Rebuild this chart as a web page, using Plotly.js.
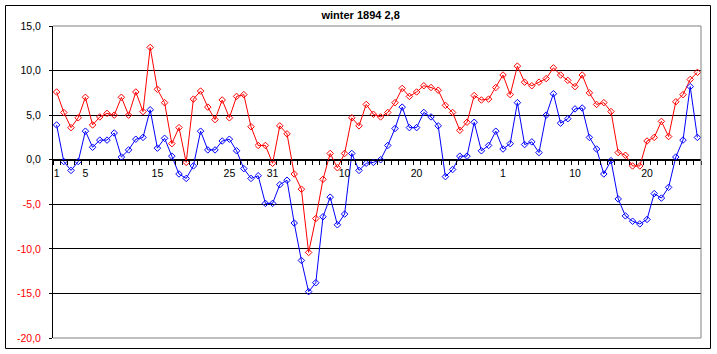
<!DOCTYPE html>
<html>
<head>
<meta charset="utf-8">
<script src="https://cdn.plot.ly/plotly-3.0.1.min.js"></script>
<style>html,body{margin:0;padding:0;background:#fff;}#chart{width:717px;height:354px;}</style>
</head>
<body>
<div id="chart"></div>
<script>
// Daily max (red) and min (blue) temperatures, Dec 1893 - Feb 1894
const maxTemp = [7.6,5.3,3.6,4.7,7.0,3.9,4.8,5.2,5.0,7.0,5.0,7.6,5.4,12.6,7.9,6.4,1.8,3.6,-0.3,6.8,7.7,5.9,4.5,6.7,4.7,7.1,7.3,3.7,1.6,1.6,-0.4,
  3.8,2.9,-1.6,-3.3,-10.4,-6.6,-2.2,0.7,-0.9,0.7,4.7,3.8,6.2,5.1,4.8,5.3,6.4,8.0,7.1,7.6,8.3,8.1,7.8,6.1,5.3,3.3,4.2,7.2,6.7,6.8,
  8.1,9.5,7.3,10.5,8.7,8.3,8.7,9.1,10.3,9.5,8.9,8.2,9.5,7.5,6.2,6.4,5.4,0.8,0.5,-0.7,-0.7,2.1,2.5,4.3,2.6,6.5,7.3,9.0,9.8];
const minTemp = [3.9,-0.2,-1.2,-0.2,3.2,1.4,2.2,2.2,3.0,0.3,1.1,2.3,2.5,5.6,1.3,2.4,0.4,-1.6,-2.1,-0.7,3.2,1.1,1.1,2.1,2.3,1.0,-1.0,-2.1,-1.8,-4.9,-4.9,
  -2.8,-2.3,-7.1,-11.3,-14.8,-13.8,-6.4,-4.2,-7.3,-6.1,0.7,-1.2,-0.4,-0.3,0.0,1.6,3.5,5.9,3.6,3.6,5.3,4.8,3.8,-1.9,-1.1,0.4,0.4,4.2,1.0,1.6,
  3.2,1.2,1.8,6.4,1.7,2.0,0.8,5.0,7.4,4.1,4.6,5.7,5.8,2.5,1.2,-1.6,-0.1,-4.4,-6.3,-6.9,-7.2,-6.7,-3.8,-4.3,-3.1,0.3,2.2,8.2,2.5];
const xTickPos = [1,5,15,25,31,41,51,63,73,83];
const xTickText = ['1','5','15','25','31','10','20','1','10','20'];
const yTickVals = [-20,-15,-10,-5,0,5,10,15];
const yTickText = ['-20,0','-15,0','-10,0','-5,0','0,0','5,0','10,0','15,0'];
const titleText = 'winter 1894 2,8';

const xIdx = maxTemp.map((_, i) => i + 1);
const yTickLabels = yTickText.map((t, i) => yTickVals[i] < 0 ? '<span style="color:#ff0000">' + t + '</span>' : t);

const mk = (y, c) => ({
  x: xIdx, y: y, type: 'scatter', mode: 'lines+markers',
  line: {color: c, width: 1},
  marker: {symbol: 'diamond-open', size: 5, color: c, line: {color: c, width: 1}},
  hoverinfo: 'skip', showlegend: false
});

const W = 648, H = 312, L = 53, T = 26;
const px = v => (v - L) / W, py = v => (T + H - v) / H;

const layout = {
  width: 717, height: 354,
  margin: {l: 53, r: 16, t: 26, b: 16},
  paper_bgcolor: '#ffffff', plot_bgcolor: '#ffffff',
  font: {family: 'Liberation Sans, Arial, sans-serif', size: 10.5, color: '#000'},
  title: {text: '<b>' + titleText + '</b>', font: {size: 11, color: '#000'}, x: 0.503, xref: 'container', y: 1 - 15/354, yref: 'container', xanchor: 'center', yanchor: 'middle'},
  xaxis: {
    range: [0.5, 90.5], anchor: 'free', position: 20/35,
    tickmode: 'array', tickvals: xTickPos, ticktext: xTickText, ticks: '',
    showline: true, linecolor: '#000', linewidth: 1, showgrid: false, zeroline: false,
    ticklabelstandoff: 4,
    minor: {ticks: 'outside', ticklen: 4, tickcolor: '#000', tickwidth: 1, tickmode: 'linear', tick0: 0.5, dtick: 1, showgrid: false}
  },
  yaxis: {
    range: [-20, 15], tickmode: 'array', tickvals: yTickVals, ticktext: yTickLabels,
    ticks: 'outside', ticklen: 3, tickcolor: '#000', showline: true, linecolor: '#000', linewidth: 1,
    showgrid: true, gridcolor: '#000', gridwidth: 1, zeroline: false, ticklabelstandoff: 6
  },
  shapes: [
    {type: 'line', xref: 'paper', yref: 'paper', x0: 0, x1: 1, y0: 1, y1: 1, line: {color: '#808080', width: 1}, layer: 'above'},
    {type: 'line', xref: 'paper', yref: 'paper', x0: 1, x1: 1, y0: 0, y1: 1, line: {color: '#808080', width: 1}, layer: 'above'},
    {type: 'line', xref: 'paper', yref: 'paper', x0: 0, x1: 1, y0: 0, y1: 0, line: {color: '#808080', width: 1}, layer: 'above'},
    {type: 'rect', xref: 'paper', yref: 'paper', x0: px(5.5), x1: px(710.5), y0: py(348.5), y1: py(5.5), line: {color: '#000', width: 1}, fillcolor: 'rgba(0,0,0,0)', layer: 'above'}
  ]
};

Plotly.newPlot('chart', [mk(maxTemp, '#ff0000'), mk(minTemp, '#0000ff')], layout, {staticPlot: true, displayModeBar: false});
</script>
</body>
</html>
